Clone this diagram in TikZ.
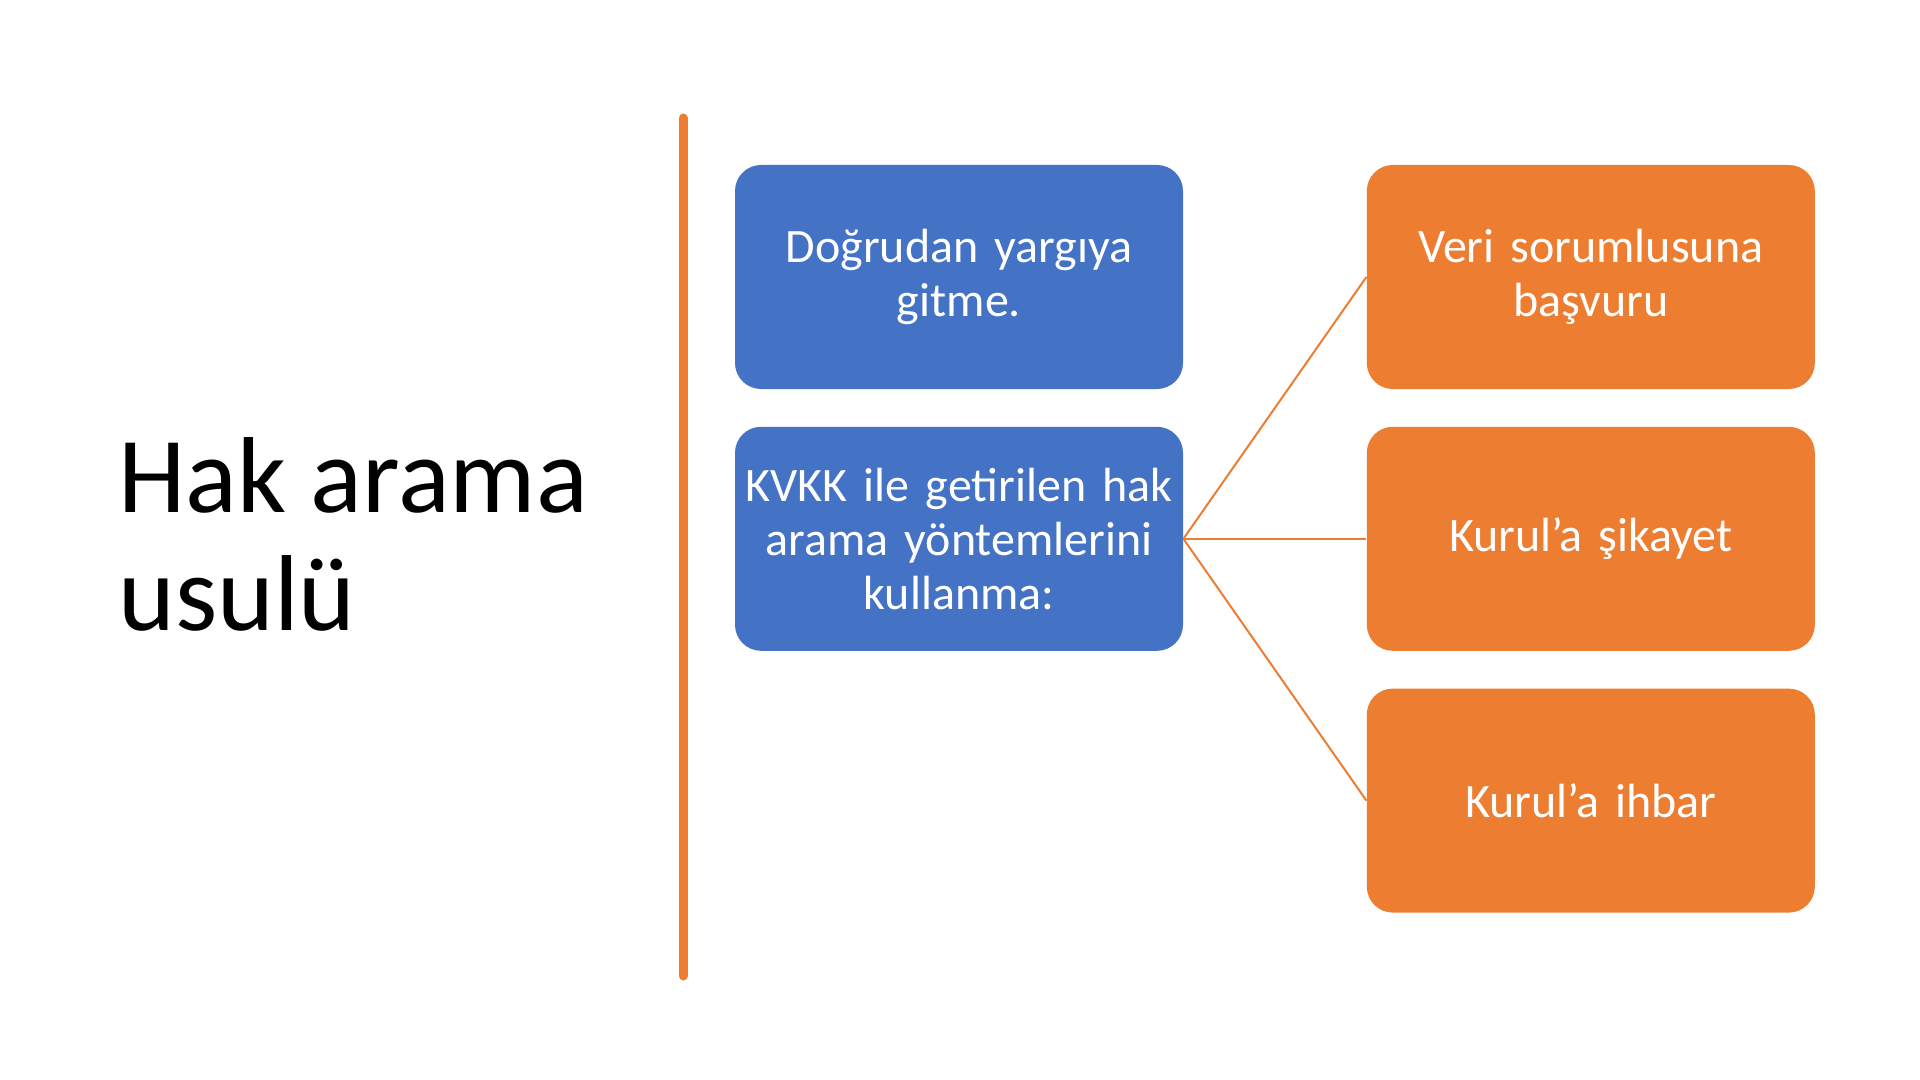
\documentclass[tikz,border=0pt]{standalone}
\usepackage{fontspec}
\setmainfont{Carlito}
\usetikzlibrary{positioning}
\definecolor{boxblue}{HTML}{4472C4}
\definecolor{boxorange}{HTML}{ED7D31}
\tikzstyle{method} = [rectangle, rounded corners=13pt, minimum width=224pt, minimum height=112pt, text width=222pt, align=center, inner sep=0pt, fill=boxblue, text=white, font=\fontsize{24}{27}\selectfont]
\tikzstyle{option} = [method, fill=boxorange]
\tikzstyle{heading} = [anchor=base west, align=left, inner sep=0pt, font=\fontsize{54}{59}\selectfont]
\tikzstyle{branch} = [boxorange, line width=1pt]
\tikzstyle{divider} = [boxorange, line width=4.5pt, line cap=round]

\begin{document}
\begin{tikzpicture}[x=0.5pt, y=-0.5pt]
				\useasboundingbox[fill=white] (0,0) rectangle (1920,1080);

				\node (title) [heading] at (118,630) {Hak arama\\usulü};
				\coordinate (top) at (683,118);
				\coordinate (bottom) at (683,976);

				\node (direct) [method] at (959,277) {Doğrudan yargıya\\gitme.};
				\node (kvkk) [method, below=18.5pt of direct] {KVKK ile getirilen hak\\arama yöntemlerini\\kullanma:};
				\node (veri) [option, right=91.5pt of direct] {Veri sorumlusuna\\başvuru};
				\node (sikayet) [option, below=18.5pt of veri] {Kurul’a şikayet};
				\node (ihbar) [option, below=18.5pt of sikayet] {Kurul’a ihbar};

				\draw [divider] (top) -- (bottom);
				\draw [branch] (kvkk.east) -- (veri.west);
				\draw [branch] (kvkk.east) -- (sikayet.west);
				\draw [branch] (kvkk.east) -- (ihbar.west);

			\end{tikzpicture}
\end{document}
